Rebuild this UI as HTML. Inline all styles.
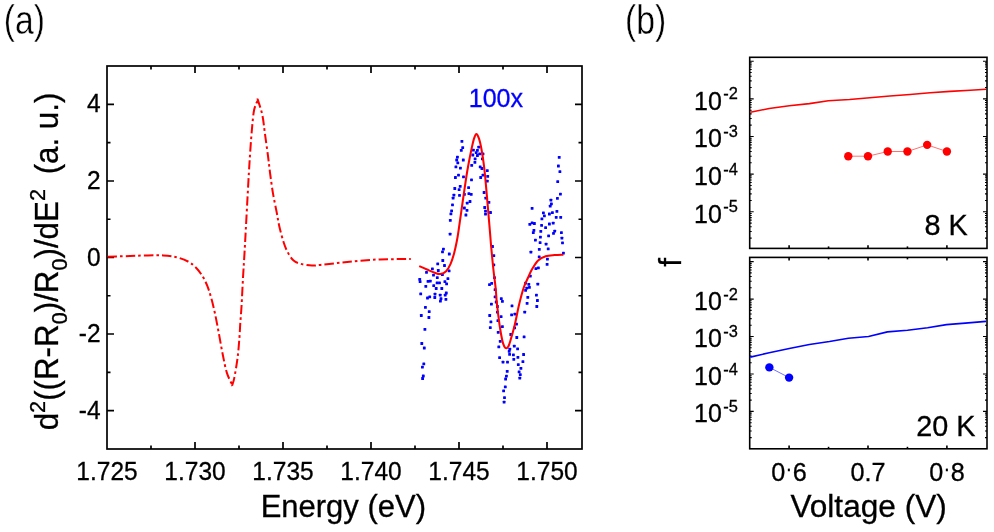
<!DOCTYPE html>
<html><head><meta charset="utf-8"><title>Figure</title>
<style>html,body{margin:0;padding:0;background:#fff;}body{width:994px;height:532px;overflow:hidden;position:relative;font-family:"Liberation Sans", sans-serif;}svg{position:absolute;left:0;top:0;will-change:transform;}</style>
</head><body>
<svg width="994" height="532" viewBox="0 0 994 532" style="display:block">
<rect width="994" height="532" fill="#fff"/>
<g stroke="#000" stroke-width="1.7" fill="none" stroke-linecap="butt">
<rect x="107.00" y="66.00" width="475.00" height="383.00"/>
<path d="M151.00 449.00V445.50 M151.00 66.00V69.50"/>
<path d="M195.00 449.00V442.00 M195.00 66.00V73.00"/>
<path d="M239.00 449.00V445.50 M239.00 66.00V69.50"/>
<path d="M283.00 449.00V442.00 M283.00 66.00V73.00"/>
<path d="M327.00 449.00V445.50 M327.00 66.00V69.50"/>
<path d="M371.00 449.00V442.00 M371.00 66.00V73.00"/>
<path d="M415.00 449.00V445.50 M415.00 66.00V69.50"/>
<path d="M459.00 449.00V442.00 M459.00 66.00V73.00"/>
<path d="M503.00 449.00V445.50 M503.00 66.00V69.50"/>
<path d="M547.00 449.00V442.00 M547.00 66.00V73.00"/>
<path d="M107.00 410.54H114.00 M582.00 410.54H575.00"/>
<path d="M107.00 372.28H110.50 M582.00 372.28H578.50"/>
<path d="M107.00 334.02H114.00 M582.00 334.02H575.00"/>
<path d="M107.00 295.76H110.50 M582.00 295.76H578.50"/>
<path d="M107.00 257.50H114.00 M582.00 257.50H575.00"/>
<path d="M107.00 219.24H110.50 M582.00 219.24H578.50"/>
<path d="M107.00 180.98H114.00 M582.00 180.98H575.00"/>
<path d="M107.00 142.72H110.50 M582.00 142.72H578.50"/>
<path d="M107.00 104.46H114.00 M582.00 104.46H575.00"/>
</g>
<text transform="translate(107.00,479.90) scale(1,1.040)" font-family='"Liberation Sans", sans-serif' font-size="24.50" text-anchor="middle" fill="#000" stroke="#000" stroke-width="0.3">1.725</text>
<text transform="translate(195.00,479.90) scale(1,1.040)" font-family='"Liberation Sans", sans-serif' font-size="24.50" text-anchor="middle" fill="#000" stroke="#000" stroke-width="0.3">1.730</text>
<text transform="translate(283.00,479.90) scale(1,1.040)" font-family='"Liberation Sans", sans-serif' font-size="24.50" text-anchor="middle" fill="#000" stroke="#000" stroke-width="0.3">1.735</text>
<text transform="translate(371.00,479.90) scale(1,1.040)" font-family='"Liberation Sans", sans-serif' font-size="24.50" text-anchor="middle" fill="#000" stroke="#000" stroke-width="0.3">1.740</text>
<text transform="translate(459.00,479.90) scale(1,1.040)" font-family='"Liberation Sans", sans-serif' font-size="24.50" text-anchor="middle" fill="#000" stroke="#000" stroke-width="0.3">1.745</text>
<text transform="translate(547.00,479.90) scale(1,1.040)" font-family='"Liberation Sans", sans-serif' font-size="24.50" text-anchor="middle" fill="#000" stroke="#000" stroke-width="0.3">1.750</text>
<text transform="translate(100.60,418.54) scale(1,1.040)" font-family='"Liberation Sans", sans-serif' font-size="24.50" text-anchor="end" fill="#000" stroke="#000" stroke-width="0.3">-4</text>
<text transform="translate(100.60,342.02) scale(1,1.040)" font-family='"Liberation Sans", sans-serif' font-size="24.50" text-anchor="end" fill="#000" stroke="#000" stroke-width="0.3">-2</text>
<text transform="translate(100.60,265.50) scale(1,1.040)" font-family='"Liberation Sans", sans-serif' font-size="24.50" text-anchor="end" fill="#000" stroke="#000" stroke-width="0.3">0</text>
<text transform="translate(100.60,188.98) scale(1,1.040)" font-family='"Liberation Sans", sans-serif' font-size="24.50" text-anchor="end" fill="#000" stroke="#000" stroke-width="0.3">2</text>
<text transform="translate(100.60,112.46) scale(1,1.040)" font-family='"Liberation Sans", sans-serif' font-size="24.50" text-anchor="end" fill="#000" stroke="#000" stroke-width="0.3">4</text>
<text transform="translate(343.30,517.20) scale(1,1.015)" font-family='"Liberation Sans", sans-serif' font-size="31.00" text-anchor="middle" fill="#000" stroke="#000" stroke-width="0.3">Energy (eV)</text>
<g transform="translate(57.8,430.3) rotate(-90) scale(1,1.040)" font-family='"Liberation Sans", sans-serif' fill="#000" stroke="#000" stroke-width="0.3">
<text x="0" y="0" font-size="31.3">d<tspan dy="-12.0" font-size="21.7">2</tspan><tspan dy="12.0">((R-R</tspan><tspan dy="9.0" font-size="21.7">0</tspan><tspan dy="-9.0">)/R</tspan><tspan dy="9.0" font-size="21.7">0</tspan><tspan dy="-9.0">)/dE</tspan><tspan dy="-12.0" font-size="21.7">2</tspan><tspan dy="12.0" dx="6"> (a. u.)</tspan></text>
</g>
<path d="M107.60 256.80 C111.33 256.67 123.30 256.23 130.00 256.00 C136.70 255.77 142.28 255.50 147.80 255.40 C153.32 255.30 158.32 255.10 163.10 255.40 C167.88 255.70 172.35 256.18 176.50 257.20 C180.65 258.22 184.82 259.82 188.00 261.50 C191.18 263.18 193.22 264.90 195.60 267.30 C197.98 269.70 200.38 272.88 202.30 275.90 C204.22 278.92 205.67 281.90 207.10 285.40 C208.53 288.90 209.63 292.43 210.90 296.90 C212.17 301.37 213.43 306.43 214.70 312.20 C215.97 317.97 217.18 324.57 218.50 331.50 C219.82 338.43 221.22 346.95 222.60 353.80 C223.98 360.65 225.18 367.40 226.80 372.60 C228.42 377.80 231.38 382.93 232.30 385.00 C233.22 387.07 231.97 386.18 232.30 385.00 C232.63 383.82 233.42 382.47 234.30 377.90 C235.18 373.33 236.75 364.25 237.60 357.60 C238.45 350.95 238.95 343.77 239.40 338.00 C239.85 332.23 239.95 328.25 240.30 323.00 C240.65 317.75 241.05 314.03 241.50 306.50 C241.95 298.97 242.52 286.40 243.00 277.80 C243.48 269.20 243.93 262.95 244.40 254.90 C244.87 246.85 245.30 238.72 245.80 229.50 C246.30 220.28 246.88 209.08 247.40 199.60 C247.92 190.12 248.43 180.53 248.90 172.60 C249.37 164.67 249.70 159.17 250.20 152.00 C250.70 144.83 251.25 136.60 251.90 129.60 C252.55 122.60 253.10 114.93 254.10 110.00 C255.10 105.07 257.27 101.67 257.90 100.00 C258.53 98.33 257.15 97.45 257.90 100.00 C258.65 102.55 261.22 109.62 262.40 115.30 C263.58 120.98 264.07 127.32 265.00 134.10 C265.93 140.88 267.15 149.47 268.00 156.00 C268.85 162.53 269.28 167.15 270.10 173.30 C270.92 179.45 271.80 186.38 272.90 192.90 C274.00 199.42 275.62 206.77 276.70 212.40 C277.78 218.03 278.23 221.68 279.40 226.70 C280.57 231.72 282.32 238.25 283.70 242.50 C285.08 246.75 286.10 249.25 287.70 252.20 C289.30 255.15 291.15 258.27 293.30 260.20 C295.45 262.13 297.50 262.90 300.60 263.80 C303.70 264.70 308.42 265.45 311.90 265.60 C315.38 265.75 316.68 265.18 321.50 264.70 C326.32 264.22 334.37 263.37 340.80 262.70 C347.23 262.03 353.65 261.25 360.10 260.70 C366.55 260.15 373.32 259.67 379.50 259.40 C385.68 259.13 391.98 259.17 397.20 259.10 C402.42 259.03 408.53 259.02 410.80 259.00" fill="none" stroke="#ff0000" stroke-width="2.0" stroke-dasharray="9.4 3 2.6 3.1" stroke-linejoin="round"/>
<g fill="#0000ff">
<rect x="460.5" y="140.0" width="2.8" height="2.8" rx="0.5"/>
<rect x="461.3" y="146.2" width="2.8" height="2.8" rx="0.5"/>
<rect x="459.9" y="149.0" width="2.8" height="2.8" rx="0.5"/>
<rect x="456.0" y="155.8" width="2.8" height="2.8" rx="0.5"/>
<rect x="455.3" y="158.6" width="2.8" height="2.8" rx="0.5"/>
<rect x="461.9" y="158.6" width="2.8" height="2.8" rx="0.5"/>
<rect x="456.4" y="161.4" width="2.8" height="2.8" rx="0.5"/>
<rect x="454.5" y="165.4" width="2.8" height="2.8" rx="0.5"/>
<rect x="459.0" y="166.7" width="2.8" height="2.8" rx="0.5"/>
<rect x="457.1" y="173.8" width="2.8" height="2.8" rx="0.5"/>
<rect x="454.0" y="176.1" width="2.8" height="2.8" rx="0.5"/>
<rect x="462.1" y="175.5" width="2.8" height="2.8" rx="0.5"/>
<rect x="477.3" y="145.7" width="2.8" height="2.8" rx="0.5"/>
<rect x="472.0" y="148.8" width="2.8" height="2.8" rx="0.5"/>
<rect x="476.0" y="149.0" width="2.8" height="2.8" rx="0.5"/>
<rect x="474.8" y="151.3" width="2.8" height="2.8" rx="0.5"/>
<rect x="478.2" y="152.4" width="2.8" height="2.8" rx="0.5"/>
<rect x="481.6" y="152.4" width="2.8" height="2.8" rx="0.5"/>
<rect x="471.4" y="153.6" width="2.8" height="2.8" rx="0.5"/>
<rect x="476.0" y="154.1" width="2.8" height="2.8" rx="0.5"/>
<rect x="473.7" y="157.5" width="2.8" height="2.8" rx="0.5"/>
<rect x="481.0" y="157.5" width="2.8" height="2.8" rx="0.5"/>
<rect x="473.5" y="160.9" width="2.8" height="2.8" rx="0.5"/>
<rect x="470.3" y="164.0" width="2.8" height="2.8" rx="0.5"/>
<rect x="478.8" y="165.4" width="2.8" height="2.8" rx="0.5"/>
<rect x="480.5" y="167.1" width="2.8" height="2.8" rx="0.5"/>
<rect x="485.9" y="169.3" width="2.8" height="2.8" rx="0.5"/>
<rect x="486.3" y="175.0" width="2.8" height="2.8" rx="0.5"/>
<rect x="479.3" y="176.1" width="2.8" height="2.8" rx="0.5"/>
<rect x="481.6" y="173.8" width="2.8" height="2.8" rx="0.5"/>
<rect x="470.1" y="178.4" width="2.8" height="2.8" rx="0.5"/>
<rect x="485.9" y="179.8" width="2.8" height="2.8" rx="0.5"/>
<rect x="453.4" y="187.1" width="2.8" height="2.8" rx="0.5"/>
<rect x="458.8" y="184.9" width="2.8" height="2.8" rx="0.5"/>
<rect x="457.7" y="188.3" width="2.8" height="2.8" rx="0.5"/>
<rect x="467.2" y="186.2" width="2.8" height="2.8" rx="0.5"/>
<rect x="452.5" y="193.7" width="2.8" height="2.8" rx="0.5"/>
<rect x="451.7" y="196.7" width="2.8" height="2.8" rx="0.5"/>
<rect x="458.1" y="193.9" width="2.8" height="2.8" rx="0.5"/>
<rect x="463.0" y="193.0" width="2.8" height="2.8" rx="0.5"/>
<rect x="467.5" y="192.2" width="2.8" height="2.8" rx="0.5"/>
<rect x="469.8" y="193.0" width="2.8" height="2.8" rx="0.5"/>
<rect x="482.7" y="191.1" width="2.8" height="2.8" rx="0.5"/>
<rect x="484.4" y="196.7" width="2.8" height="2.8" rx="0.5"/>
<rect x="487.5" y="201.0" width="2.8" height="2.8" rx="0.5"/>
<rect x="451.1" y="203.5" width="2.8" height="2.8" rx="0.5"/>
<rect x="468.6" y="200.1" width="2.8" height="2.8" rx="0.5"/>
<rect x="465.8" y="201.8" width="2.8" height="2.8" rx="0.5"/>
<rect x="463.0" y="206.6" width="2.8" height="2.8" rx="0.5"/>
<rect x="465.6" y="208.9" width="2.8" height="2.8" rx="0.5"/>
<rect x="483.3" y="206.1" width="2.8" height="2.8" rx="0.5"/>
<rect x="484.1" y="209.7" width="2.8" height="2.8" rx="0.5"/>
<rect x="484.1" y="212.8" width="2.8" height="2.8" rx="0.5"/>
<rect x="450.2" y="209.5" width="2.8" height="2.8" rx="0.5"/>
<rect x="449.5" y="212.5" width="2.8" height="2.8" rx="0.5"/>
<rect x="464.5" y="213.6" width="2.8" height="2.8" rx="0.5"/>
<rect x="448.9" y="218.9" width="2.8" height="2.8" rx="0.5"/>
<rect x="448.7" y="232.8" width="2.8" height="2.8" rx="0.5"/>
<rect x="442.0" y="247.8" width="2.8" height="2.8" rx="0.5"/>
<rect x="441.1" y="250.5" width="2.8" height="2.8" rx="0.5"/>
<rect x="447.9" y="252.6" width="2.8" height="2.8" rx="0.5"/>
<rect x="441.4" y="259.1" width="2.8" height="2.8" rx="0.5"/>
<rect x="436.3" y="262.4" width="2.8" height="2.8" rx="0.5"/>
<rect x="443.1" y="264.1" width="2.8" height="2.8" rx="0.5"/>
<rect x="431.0" y="267.5" width="2.8" height="2.8" rx="0.5"/>
<rect x="436.9" y="269.1" width="2.8" height="2.8" rx="0.5"/>
<rect x="447.7" y="269.4" width="2.8" height="2.8" rx="0.5"/>
<rect x="425.1" y="270.9" width="2.8" height="2.8" rx="0.5"/>
<rect x="432.1" y="273.8" width="2.8" height="2.8" rx="0.5"/>
<rect x="441.0" y="273.1" width="2.8" height="2.8" rx="0.5"/>
<rect x="435.9" y="276.2" width="2.8" height="2.8" rx="0.5"/>
<rect x="446.5" y="277.2" width="2.8" height="2.8" rx="0.5"/>
<rect x="418.3" y="277.9" width="2.8" height="2.8" rx="0.5"/>
<rect x="418.7" y="280.3" width="2.8" height="2.8" rx="0.5"/>
<rect x="426.6" y="280.0" width="2.8" height="2.8" rx="0.5"/>
<rect x="428.9" y="279.7" width="2.8" height="2.8" rx="0.5"/>
<rect x="435.7" y="281.4" width="2.8" height="2.8" rx="0.5"/>
<rect x="438.1" y="281.4" width="2.8" height="2.8" rx="0.5"/>
<rect x="443.5" y="280.3" width="2.8" height="2.8" rx="0.5"/>
<rect x="445.2" y="282.5" width="2.8" height="2.8" rx="0.5"/>
<rect x="432.3" y="284.2" width="2.8" height="2.8" rx="0.5"/>
<rect x="424.4" y="285.0" width="2.8" height="2.8" rx="0.5"/>
<rect x="434.8" y="287.1" width="2.8" height="2.8" rx="0.5"/>
<rect x="440.4" y="287.1" width="2.8" height="2.8" rx="0.5"/>
<rect x="419.3" y="292.4" width="2.8" height="2.8" rx="0.5"/>
<rect x="433.6" y="292.7" width="2.8" height="2.8" rx="0.5"/>
<rect x="444.9" y="291.6" width="2.8" height="2.8" rx="0.5"/>
<rect x="438.8" y="293.8" width="2.8" height="2.8" rx="0.5"/>
<rect x="443.8" y="293.8" width="2.8" height="2.8" rx="0.5"/>
<rect x="428.3" y="295.5" width="2.8" height="2.8" rx="0.5"/>
<rect x="426.1" y="296.6" width="2.8" height="2.8" rx="0.5"/>
<rect x="433.4" y="296.1" width="2.8" height="2.8" rx="0.5"/>
<rect x="439.6" y="297.2" width="2.8" height="2.8" rx="0.5"/>
<rect x="444.5" y="298.0" width="2.8" height="2.8" rx="0.5"/>
<rect x="439.0" y="299.8" width="2.8" height="2.8" rx="0.5"/>
<rect x="424.0" y="306.0" width="2.8" height="2.8" rx="0.5"/>
<rect x="427.8" y="310.2" width="2.8" height="2.8" rx="0.5"/>
<rect x="419.9" y="314.1" width="2.8" height="2.8" rx="0.5"/>
<rect x="427.5" y="316.1" width="2.8" height="2.8" rx="0.5"/>
<rect x="423.5" y="327.9" width="2.8" height="2.8" rx="0.5"/>
<rect x="420.4" y="342.1" width="2.8" height="2.8" rx="0.5"/>
<rect x="422.9" y="346.6" width="2.8" height="2.8" rx="0.5"/>
<rect x="422.4" y="362.4" width="2.8" height="2.8" rx="0.5"/>
<rect x="421.0" y="365.8" width="2.8" height="2.8" rx="0.5"/>
<rect x="421.9" y="374.6" width="2.8" height="2.8" rx="0.5"/>
<rect x="421.2" y="377.1" width="2.8" height="2.8" rx="0.5"/>
<rect x="488.1" y="283.3" width="2.8" height="2.8" rx="0.5"/>
<rect x="490.3" y="282.0" width="2.8" height="2.8" rx="0.5"/>
<rect x="493.7" y="288.2" width="2.8" height="2.8" rx="0.5"/>
<rect x="493.7" y="295.5" width="2.8" height="2.8" rx="0.5"/>
<rect x="494.8" y="300.6" width="2.8" height="2.8" rx="0.5"/>
<rect x="499.9" y="297.2" width="2.8" height="2.8" rx="0.5"/>
<rect x="501.0" y="300.0" width="2.8" height="2.8" rx="0.5"/>
<rect x="490.0" y="302.8" width="2.8" height="2.8" rx="0.5"/>
<rect x="496.0" y="305.1" width="2.8" height="2.8" rx="0.5"/>
<rect x="496.0" y="310.7" width="2.8" height="2.8" rx="0.5"/>
<rect x="488.3" y="314.1" width="2.8" height="2.8" rx="0.5"/>
<rect x="499.7" y="315.2" width="2.8" height="2.8" rx="0.5"/>
<rect x="489.5" y="320.5" width="2.8" height="2.8" rx="0.5"/>
<rect x="496.5" y="319.2" width="2.8" height="2.8" rx="0.5"/>
<rect x="488.9" y="326.2" width="2.8" height="2.8" rx="0.5"/>
<rect x="501.0" y="325.2" width="2.8" height="2.8" rx="0.5"/>
<rect x="496.8" y="331.0" width="2.8" height="2.8" rx="0.5"/>
<rect x="498.8" y="339.9" width="2.8" height="2.8" rx="0.5"/>
<rect x="497.4" y="345.5" width="2.8" height="2.8" rx="0.5"/>
<rect x="498.2" y="356.2" width="2.8" height="2.8" rx="0.5"/>
<rect x="501.6" y="360.7" width="2.8" height="2.8" rx="0.5"/>
<rect x="506.1" y="360.7" width="2.8" height="2.8" rx="0.5"/>
<rect x="505.8" y="370.0" width="2.8" height="2.8" rx="0.5"/>
<rect x="505.0" y="374.8" width="2.8" height="2.8" rx="0.5"/>
<rect x="504.2" y="377.6" width="2.8" height="2.8" rx="0.5"/>
<rect x="503.9" y="385.5" width="2.8" height="2.8" rx="0.5"/>
<rect x="507.8" y="350.0" width="2.8" height="2.8" rx="0.5"/>
<rect x="509.4" y="333.1" width="2.8" height="2.8" rx="0.5"/>
<rect x="515.4" y="336.1" width="2.8" height="2.8" rx="0.5"/>
<rect x="522.7" y="335.4" width="2.8" height="2.8" rx="0.5"/>
<rect x="512.9" y="344.8" width="2.8" height="2.8" rx="0.5"/>
<rect x="516.2" y="347.4" width="2.8" height="2.8" rx="0.5"/>
<rect x="508.4" y="347.8" width="2.8" height="2.8" rx="0.5"/>
<rect x="508.2" y="353.0" width="2.8" height="2.8" rx="0.5"/>
<rect x="512.0" y="353.4" width="2.8" height="2.8" rx="0.5"/>
<rect x="522.2" y="353.1" width="2.8" height="2.8" rx="0.5"/>
<rect x="516.5" y="356.0" width="2.8" height="2.8" rx="0.5"/>
<rect x="512.4" y="357.9" width="2.8" height="2.8" rx="0.5"/>
<rect x="521.5" y="360.2" width="2.8" height="2.8" rx="0.5"/>
<rect x="516.9" y="363.2" width="2.8" height="2.8" rx="0.5"/>
<rect x="519.5" y="366.9" width="2.8" height="2.8" rx="0.5"/>
<rect x="517.7" y="370.4" width="2.8" height="2.8" rx="0.5"/>
<rect x="518.9" y="373.3" width="2.8" height="2.8" rx="0.5"/>
<rect x="518.4" y="376.7" width="2.8" height="2.8" rx="0.5"/>
<rect x="502.2" y="389.5" width="2.8" height="2.8" rx="0.5"/>
<rect x="503.1" y="396.3" width="2.8" height="2.8" rx="0.5"/>
<rect x="502.7" y="400.8" width="2.8" height="2.8" rx="0.5"/>
<rect x="557.8" y="155.9" width="2.8" height="2.8" rx="0.5"/>
<rect x="557.0" y="164.6" width="2.8" height="2.8" rx="0.5"/>
<rect x="558.5" y="170.2" width="2.8" height="2.8" rx="0.5"/>
<rect x="556.3" y="180.3" width="2.8" height="2.8" rx="0.5"/>
<rect x="559.0" y="192.7" width="2.8" height="2.8" rx="0.5"/>
<rect x="556.0" y="196.9" width="2.8" height="2.8" rx="0.5"/>
<rect x="549.5" y="198.8" width="2.8" height="2.8" rx="0.5"/>
<rect x="550.0" y="202.5" width="2.8" height="2.8" rx="0.5"/>
<rect x="548.8" y="204.8" width="2.8" height="2.8" rx="0.5"/>
<rect x="530.7" y="207.0" width="2.8" height="2.8" rx="0.5"/>
<rect x="555.5" y="210.0" width="2.8" height="2.8" rx="0.5"/>
<rect x="542.0" y="211.5" width="2.8" height="2.8" rx="0.5"/>
<rect x="551.0" y="211.2" width="2.8" height="2.8" rx="0.5"/>
<rect x="548.0" y="212.6" width="2.8" height="2.8" rx="0.5"/>
<rect x="543.0" y="214.5" width="2.8" height="2.8" rx="0.5"/>
<rect x="554.8" y="216.0" width="2.8" height="2.8" rx="0.5"/>
<rect x="559.3" y="216.0" width="2.8" height="2.8" rx="0.5"/>
<rect x="540.5" y="217.5" width="2.8" height="2.8" rx="0.5"/>
<rect x="530.7" y="221.4" width="2.8" height="2.8" rx="0.5"/>
<rect x="533.0" y="222.1" width="2.8" height="2.8" rx="0.5"/>
<rect x="548.0" y="222.6" width="2.8" height="2.8" rx="0.5"/>
<rect x="551.8" y="221.8" width="2.8" height="2.8" rx="0.5"/>
<rect x="540.2" y="223.9" width="2.8" height="2.8" rx="0.5"/>
<rect x="544.2" y="226.2" width="2.8" height="2.8" rx="0.5"/>
<rect x="532.5" y="228.9" width="2.8" height="2.8" rx="0.5"/>
<rect x="531.9" y="231.2" width="2.8" height="2.8" rx="0.5"/>
<rect x="539.4" y="230.0" width="2.8" height="2.8" rx="0.5"/>
<rect x="553.3" y="229.7" width="2.8" height="2.8" rx="0.5"/>
<rect x="560.0" y="231.2" width="2.8" height="2.8" rx="0.5"/>
<rect x="552.1" y="231.9" width="2.8" height="2.8" rx="0.5"/>
<rect x="547.2" y="234.5" width="2.8" height="2.8" rx="0.5"/>
<rect x="539.0" y="235.7" width="2.8" height="2.8" rx="0.5"/>
<rect x="560.5" y="236.7" width="2.8" height="2.8" rx="0.5"/>
<rect x="534.0" y="238.7" width="2.8" height="2.8" rx="0.5"/>
<rect x="538.7" y="241.2" width="2.8" height="2.8" rx="0.5"/>
<rect x="544.7" y="242.7" width="2.8" height="2.8" rx="0.5"/>
<rect x="561.1" y="241.4" width="2.8" height="2.8" rx="0.5"/>
<rect x="537.9" y="248.0" width="2.8" height="2.8" rx="0.5"/>
<rect x="546.8" y="247.4" width="2.8" height="2.8" rx="0.5"/>
<rect x="529.5" y="250.7" width="2.8" height="2.8" rx="0.5"/>
<rect x="562.0" y="251.8" width="2.8" height="2.8" rx="0.5"/>
<rect x="537.8" y="255.5" width="2.8" height="2.8" rx="0.5"/>
<rect x="546.0" y="257.8" width="2.8" height="2.8" rx="0.5"/>
<rect x="545.7" y="263.0" width="2.8" height="2.8" rx="0.5"/>
<rect x="537.0" y="266.5" width="2.8" height="2.8" rx="0.5"/>
<rect x="534.5" y="267.2" width="2.8" height="2.8" rx="0.5"/>
<rect x="528.9" y="274.8" width="2.8" height="2.8" rx="0.5"/>
<rect x="536.4" y="282.7" width="2.8" height="2.8" rx="0.5"/>
<rect x="527.4" y="283.0" width="2.8" height="2.8" rx="0.5"/>
<rect x="524.2" y="281.8" width="2.8" height="2.8" rx="0.5"/>
<rect x="528.0" y="286.0" width="2.8" height="2.8" rx="0.5"/>
<rect x="525.4" y="286.8" width="2.8" height="2.8" rx="0.5"/>
<rect x="492.4" y="254.2" width="2.8" height="2.8" rx="0.5"/>
<rect x="492.4" y="263.5" width="2.8" height="2.8" rx="0.5"/>
<rect x="493.1" y="276.3" width="2.8" height="2.8" rx="0.5"/>
<rect x="524.2" y="288.9" width="2.8" height="2.8" rx="0.5"/>
<rect x="535.0" y="293.7" width="2.8" height="2.8" rx="0.5"/>
<rect x="526.4" y="296.0" width="2.8" height="2.8" rx="0.5"/>
<rect x="536.0" y="299.1" width="2.8" height="2.8" rx="0.5"/>
<rect x="525.7" y="302.0" width="2.8" height="2.8" rx="0.5"/>
<rect x="535.4" y="305.1" width="2.8" height="2.8" rx="0.5"/>
<rect x="523.3" y="310.7" width="2.8" height="2.8" rx="0.5"/>
<rect x="510.6" y="304.4" width="2.8" height="2.8" rx="0.5"/>
<rect x="513.5" y="312.7" width="2.8" height="2.8" rx="0.5"/>
<rect x="510.2" y="313.4" width="2.8" height="2.8" rx="0.5"/>
<rect x="515.1" y="322.7" width="2.8" height="2.8" rx="0.5"/>
<rect x="513.2" y="326.5" width="2.8" height="2.8" rx="0.5"/>
<rect x="528.4" y="223.0" width="2.8" height="2.8" rx="0.5"/>
<rect x="491.1" y="245.1" width="2.8" height="2.8" rx="0.5"/>
<rect x="489.1" y="211.1" width="2.8" height="2.8" rx="0.5"/>
</g>
<path d="M419.20 266.10 C420.48 266.67 424.30 268.38 426.90 269.50 C429.50 270.62 432.55 272.05 434.80 272.80 C437.05 273.55 438.52 274.27 440.40 274.00 C442.28 273.73 444.40 272.90 446.10 271.20 C447.80 269.50 449.28 266.72 450.60 263.80 C451.92 260.88 452.97 257.45 454.00 253.70 C455.03 249.95 456.00 245.42 456.80 241.30 C457.60 237.18 457.85 235.38 458.80 229.00 C459.75 222.62 461.25 211.67 462.50 203.00 C463.75 194.33 465.23 183.83 466.30 177.00 C467.37 170.17 468.00 166.80 468.90 162.00 C469.80 157.20 470.85 152.10 471.70 148.20 C472.55 144.30 473.22 140.95 474.00 138.60 C474.78 136.25 475.57 134.10 476.40 134.10 C477.23 134.10 478.18 136.25 479.00 138.60 C479.82 140.95 480.53 144.17 481.30 148.20 C482.07 152.23 482.95 158.00 483.60 162.80 C484.25 167.60 484.55 170.30 485.20 177.00 C485.85 183.70 486.73 194.17 487.50 203.00 C488.27 211.83 489.18 222.68 489.80 230.00 C490.42 237.32 490.60 240.32 491.20 246.90 C491.80 253.48 492.65 262.55 493.40 269.50 C494.15 276.45 495.13 283.10 495.70 288.60 C496.27 294.10 496.15 296.42 496.80 302.50 C497.45 308.58 498.68 318.77 499.60 325.10 C500.52 331.43 501.52 336.93 502.30 340.50 C503.08 344.07 503.63 345.20 504.30 346.50 C504.97 347.80 505.63 348.30 506.30 348.30 C506.97 348.30 507.68 347.55 508.30 346.50 C508.92 345.45 508.95 345.48 510.00 342.00 C511.05 338.52 513.08 331.83 514.60 325.60 C516.12 319.37 517.60 310.87 519.10 304.60 C520.60 298.33 522.10 292.52 523.60 288.00 C525.10 283.48 526.70 280.62 528.10 277.50 C529.50 274.38 530.33 272.15 532.00 269.30 C533.67 266.45 535.83 262.57 538.10 260.40 C540.37 258.23 542.83 257.18 545.60 256.30 C548.37 255.42 551.73 255.37 554.70 255.10 C557.67 254.83 561.95 254.77 563.40 254.70" fill="none" stroke="#ff0000" stroke-width="2.05" stroke-linejoin="round"/>
<text transform="translate(495.90,107.30) scale(1,1.040)" font-family='"Liberation Sans", sans-serif' font-size="25.05" text-anchor="middle" fill="#0000ff" stroke="#0000ff" stroke-width="0.3">100x</text>
<g transform="translate(3.80,33.50) scale(0.83,1)"><text x="0" y="0" font-family='"Liberation Sans", sans-serif' font-size="40.6" fill="#000" stroke="#fff" stroke-width="0.4">(a)</text></g>
<g transform="translate(625.00,33.50) scale(0.83,1)"><text x="0" y="0" font-family='"Liberation Sans", sans-serif' font-size="40.6" fill="#000" stroke="#fff" stroke-width="0.4">(b)</text></g>
<g stroke="#000" stroke-width="1.6" fill="none">
<rect x="749.70" y="57.30" width="237.30" height="191.10"/>
<path d="M789.10 248.40V245.20"/>
<path d="M828.55 248.40V246.40"/>
<path d="M868.00 248.40V245.20"/>
<path d="M907.45 248.40V246.40"/>
<path d="M946.90 248.40V245.20"/>
</g>
<g stroke="#000" stroke-width="1.1" fill="none">
<path d="M749.70 61.20H753.70 M987.00 61.20H983.00"/>
<path d="M749.70 98.85H753.70 M987.00 98.85H983.00"/>
<path d="M749.70 87.52H751.70 M987.00 87.52H985.00"/>
<path d="M749.70 80.89H751.70 M987.00 80.89H985.00"/>
<path d="M749.70 76.18H751.70 M987.00 76.18H985.00"/>
<path d="M749.70 72.53H751.70 M987.00 72.53H985.00"/>
<path d="M749.70 69.55H751.70 M987.00 69.55H985.00"/>
<path d="M749.70 67.03H751.70 M987.00 67.03H985.00"/>
<path d="M749.70 64.85H751.70 M987.00 64.85H985.00"/>
<path d="M749.70 62.92H751.70 M987.00 62.92H985.00"/>
<path d="M749.70 136.50H753.70 M987.00 136.50H983.00"/>
<path d="M749.70 125.17H751.70 M987.00 125.17H985.00"/>
<path d="M749.70 118.54H751.70 M987.00 118.54H985.00"/>
<path d="M749.70 113.83H751.70 M987.00 113.83H985.00"/>
<path d="M749.70 110.18H751.70 M987.00 110.18H985.00"/>
<path d="M749.70 107.20H751.70 M987.00 107.20H985.00"/>
<path d="M749.70 104.68H751.70 M987.00 104.68H985.00"/>
<path d="M749.70 102.50H751.70 M987.00 102.50H985.00"/>
<path d="M749.70 100.57H751.70 M987.00 100.57H985.00"/>
<path d="M749.70 174.15H753.70 M987.00 174.15H983.00"/>
<path d="M749.70 162.82H751.70 M987.00 162.82H985.00"/>
<path d="M749.70 156.19H751.70 M987.00 156.19H985.00"/>
<path d="M749.70 151.48H751.70 M987.00 151.48H985.00"/>
<path d="M749.70 147.83H751.70 M987.00 147.83H985.00"/>
<path d="M749.70 144.85H751.70 M987.00 144.85H985.00"/>
<path d="M749.70 142.33H751.70 M987.00 142.33H985.00"/>
<path d="M749.70 140.15H751.70 M987.00 140.15H985.00"/>
<path d="M749.70 138.22H751.70 M987.00 138.22H985.00"/>
<path d="M749.70 211.80H753.70 M987.00 211.80H983.00"/>
<path d="M749.70 200.47H751.70 M987.00 200.47H985.00"/>
<path d="M749.70 193.84H751.70 M987.00 193.84H985.00"/>
<path d="M749.70 189.13H751.70 M987.00 189.13H985.00"/>
<path d="M749.70 185.48H751.70 M987.00 185.48H985.00"/>
<path d="M749.70 182.50H751.70 M987.00 182.50H985.00"/>
<path d="M749.70 179.98H751.70 M987.00 179.98H985.00"/>
<path d="M749.70 177.80H751.70 M987.00 177.80H985.00"/>
<path d="M749.70 175.87H751.70 M987.00 175.87H985.00"/>
<path d="M749.70 238.12H751.70 M987.00 238.12H985.00"/>
<path d="M749.70 231.49H751.70 M987.00 231.49H985.00"/>
<path d="M749.70 226.78H751.70 M987.00 226.78H985.00"/>
<path d="M749.70 223.13H751.70 M987.00 223.13H985.00"/>
<path d="M749.70 220.15H751.70 M987.00 220.15H985.00"/>
<path d="M749.70 217.63H751.70 M987.00 217.63H985.00"/>
<path d="M749.70 215.45H751.70 M987.00 215.45H985.00"/>
<path d="M749.70 213.52H751.70 M987.00 213.52H985.00"/>
</g>
<text transform="translate(721.90,109.65) scale(1,1.040)" font-family='"Liberation Sans", sans-serif' font-size="25.00" text-anchor="end" fill="#000" stroke="#000" stroke-width="0.3">10</text>
<text transform="translate(723.20,99.45) scale(1,1.040)" font-family='"Liberation Sans", sans-serif' font-size="16.40" text-anchor="start" fill="#000" stroke="#000" stroke-width="0.3">-2</text>
<text transform="translate(721.90,147.30) scale(1,1.040)" font-family='"Liberation Sans", sans-serif' font-size="25.00" text-anchor="end" fill="#000" stroke="#000" stroke-width="0.3">10</text>
<text transform="translate(723.20,137.10) scale(1,1.040)" font-family='"Liberation Sans", sans-serif' font-size="16.40" text-anchor="start" fill="#000" stroke="#000" stroke-width="0.3">-3</text>
<text transform="translate(721.90,184.95) scale(1,1.040)" font-family='"Liberation Sans", sans-serif' font-size="25.00" text-anchor="end" fill="#000" stroke="#000" stroke-width="0.3">10</text>
<text transform="translate(723.20,174.75) scale(1,1.040)" font-family='"Liberation Sans", sans-serif' font-size="16.40" text-anchor="start" fill="#000" stroke="#000" stroke-width="0.3">-4</text>
<text transform="translate(721.90,222.60) scale(1,1.040)" font-family='"Liberation Sans", sans-serif' font-size="25.00" text-anchor="end" fill="#000" stroke="#000" stroke-width="0.3">10</text>
<text transform="translate(723.20,212.40) scale(1,1.040)" font-family='"Liberation Sans", sans-serif' font-size="16.40" text-anchor="start" fill="#000" stroke="#000" stroke-width="0.3">-5</text>
<g stroke="#000" stroke-width="1.6" fill="none">
<rect x="749.70" y="257.40" width="237.30" height="191.40"/>
<path d="M789.10 448.80V445.60"/>
<path d="M789.10 257.40V260.60"/>
<path d="M828.55 448.80V446.80"/>
<path d="M828.55 257.40V259.40"/>
<path d="M868.00 448.80V445.60"/>
<path d="M868.00 257.40V260.60"/>
<path d="M907.45 448.80V446.80"/>
<path d="M907.45 257.40V259.40"/>
<path d="M946.90 448.80V445.60"/>
<path d="M946.90 257.40V260.60"/>
</g>
<g stroke="#000" stroke-width="1.1" fill="none">
<path d="M749.70 261.65H753.70 M987.00 261.65H983.00"/>
<path d="M749.70 299.09H753.70 M987.00 299.09H983.00"/>
<path d="M749.70 287.82H751.70 M987.00 287.82H985.00"/>
<path d="M749.70 281.23H751.70 M987.00 281.23H985.00"/>
<path d="M749.70 276.55H751.70 M987.00 276.55H985.00"/>
<path d="M749.70 272.92H751.70 M987.00 272.92H985.00"/>
<path d="M749.70 269.96H751.70 M987.00 269.96H985.00"/>
<path d="M749.70 267.45H751.70 M987.00 267.45H985.00"/>
<path d="M749.70 265.28H751.70 M987.00 265.28H985.00"/>
<path d="M749.70 263.36H751.70 M987.00 263.36H985.00"/>
<path d="M749.70 336.53H753.70 M987.00 336.53H983.00"/>
<path d="M749.70 325.26H751.70 M987.00 325.26H985.00"/>
<path d="M749.70 318.67H751.70 M987.00 318.67H985.00"/>
<path d="M749.70 313.99H751.70 M987.00 313.99H985.00"/>
<path d="M749.70 310.36H751.70 M987.00 310.36H985.00"/>
<path d="M749.70 307.40H751.70 M987.00 307.40H985.00"/>
<path d="M749.70 304.89H751.70 M987.00 304.89H985.00"/>
<path d="M749.70 302.72H751.70 M987.00 302.72H985.00"/>
<path d="M749.70 300.80H751.70 M987.00 300.80H985.00"/>
<path d="M749.70 373.97H753.70 M987.00 373.97H983.00"/>
<path d="M749.70 362.70H751.70 M987.00 362.70H985.00"/>
<path d="M749.70 356.11H751.70 M987.00 356.11H985.00"/>
<path d="M749.70 351.43H751.70 M987.00 351.43H985.00"/>
<path d="M749.70 347.80H751.70 M987.00 347.80H985.00"/>
<path d="M749.70 344.84H751.70 M987.00 344.84H985.00"/>
<path d="M749.70 342.33H751.70 M987.00 342.33H985.00"/>
<path d="M749.70 340.16H751.70 M987.00 340.16H985.00"/>
<path d="M749.70 338.24H751.70 M987.00 338.24H985.00"/>
<path d="M749.70 411.41H753.70 M987.00 411.41H983.00"/>
<path d="M749.70 400.14H751.70 M987.00 400.14H985.00"/>
<path d="M749.70 393.55H751.70 M987.00 393.55H985.00"/>
<path d="M749.70 388.87H751.70 M987.00 388.87H985.00"/>
<path d="M749.70 385.24H751.70 M987.00 385.24H985.00"/>
<path d="M749.70 382.28H751.70 M987.00 382.28H985.00"/>
<path d="M749.70 379.77H751.70 M987.00 379.77H985.00"/>
<path d="M749.70 377.60H751.70 M987.00 377.60H985.00"/>
<path d="M749.70 375.68H751.70 M987.00 375.68H985.00"/>
<path d="M749.70 437.58H751.70 M987.00 437.58H985.00"/>
<path d="M749.70 430.99H751.70 M987.00 430.99H985.00"/>
<path d="M749.70 426.31H751.70 M987.00 426.31H985.00"/>
<path d="M749.70 422.68H751.70 M987.00 422.68H985.00"/>
<path d="M749.70 419.72H751.70 M987.00 419.72H985.00"/>
<path d="M749.70 417.21H751.70 M987.00 417.21H985.00"/>
<path d="M749.70 415.04H751.70 M987.00 415.04H985.00"/>
<path d="M749.70 413.12H751.70 M987.00 413.12H985.00"/>
</g>
<text transform="translate(721.90,309.89) scale(1,1.040)" font-family='"Liberation Sans", sans-serif' font-size="25.00" text-anchor="end" fill="#000" stroke="#000" stroke-width="0.3">10</text>
<text transform="translate(723.20,299.69) scale(1,1.040)" font-family='"Liberation Sans", sans-serif' font-size="16.40" text-anchor="start" fill="#000" stroke="#000" stroke-width="0.3">-2</text>
<text transform="translate(721.90,347.33) scale(1,1.040)" font-family='"Liberation Sans", sans-serif' font-size="25.00" text-anchor="end" fill="#000" stroke="#000" stroke-width="0.3">10</text>
<text transform="translate(723.20,337.13) scale(1,1.040)" font-family='"Liberation Sans", sans-serif' font-size="16.40" text-anchor="start" fill="#000" stroke="#000" stroke-width="0.3">-3</text>
<text transform="translate(721.90,384.77) scale(1,1.040)" font-family='"Liberation Sans", sans-serif' font-size="25.00" text-anchor="end" fill="#000" stroke="#000" stroke-width="0.3">10</text>
<text transform="translate(723.20,374.57) scale(1,1.040)" font-family='"Liberation Sans", sans-serif' font-size="16.40" text-anchor="start" fill="#000" stroke="#000" stroke-width="0.3">-4</text>
<text transform="translate(721.90,422.21) scale(1,1.040)" font-family='"Liberation Sans", sans-serif' font-size="25.00" text-anchor="end" fill="#000" stroke="#000" stroke-width="0.3">10</text>
<text transform="translate(723.20,412.01) scale(1,1.040)" font-family='"Liberation Sans", sans-serif' font-size="16.40" text-anchor="start" fill="#000" stroke="#000" stroke-width="0.3">-5</text>
<path d="M750.3 112.3 L769.2 108.5 L789.3 105.8 L809.4 103.6 L828.3 100.7 L849.6 99.5 L869.8 97.7 L889.9 96.0 L910.0 94.5 L930.1 92.7 L950.2 91.4 L970.4 90.3 L986.0 89.2" fill="none" stroke="#ff0000" stroke-width="1.6" stroke-linejoin="round"/>
<path d="M848.3 156.2 L868.0 156.2 L887.7 151.5 L907.4 151.5 L927.2 144.9 L946.9 151.5" fill="none" stroke="#ff0000" stroke-width="0.7" opacity="0.8"/>
<circle cx="848.27" cy="156.19" r="4.2" fill="#ff0000"/>
<circle cx="868.00" cy="156.19" r="4.2" fill="#ff0000"/>
<circle cx="887.72" cy="151.48" r="4.2" fill="#ff0000"/>
<circle cx="907.45" cy="151.48" r="4.2" fill="#ff0000"/>
<circle cx="927.17" cy="144.85" r="4.2" fill="#ff0000"/>
<circle cx="946.90" cy="151.48" r="4.2" fill="#ff0000"/>
<path d="M750.3 357.1 L769.2 352.8 L789.3 348.5 L809.4 344.5 L829.5 341.5 L848.4 338.2 L868.5 336.5 L887.4 331.9 L907.5 330.2 L927.6 327.7 L946.5 324.6 L965.3 323.1 L986.0 321.4" fill="none" stroke="#0000ff" stroke-width="1.6" stroke-linejoin="round"/>
<path d="M769.4 367.4 L789.1 377.6" fill="none" stroke="#0000ff" stroke-width="0.7" opacity="0.8"/>
<circle cx="769.37" cy="367.38" r="4.2" fill="#0000ff"/>
<circle cx="789.10" cy="377.60" r="4.2" fill="#0000ff"/>
<text transform="translate(967.60,235.40) scale(1,1.030)" font-family='"Liberation Sans", sans-serif' font-size="28.80" text-anchor="end" fill="#000" stroke="#000" stroke-width="0.3">8 K</text>
<text transform="translate(975.40,435.70) scale(1,1.030)" font-family='"Liberation Sans", sans-serif' font-size="28.80" text-anchor="end" fill="#000" stroke="#000" stroke-width="0.3">20 K</text>
<text transform="translate(789.00,481.0) scale(1,1.040)" font-family='"Liberation Sans", sans-serif' font-size="25.2" text-anchor="middle" fill="#000" stroke="#000" stroke-width="0.3">0<tspan dx="1.0" dy="-9.6" font-size="19">.</tspan><tspan dx="1.0" dy="9.6">6</tspan></text>
<text transform="translate(868.00,481.00) scale(1,1.040)" font-family='"Liberation Sans", sans-serif' font-size="25.20" text-anchor="middle" fill="#000" stroke="#000" stroke-width="0.3">0.7</text>
<text transform="translate(947.00,481.0) scale(1,1.040)" font-family='"Liberation Sans", sans-serif' font-size="25.2" text-anchor="middle" fill="#000" stroke="#000" stroke-width="0.3">0<tspan dx="1.0" dy="-9.6" font-size="19">.</tspan><tspan dx="1.0" dy="9.6">8</tspan></text>
<text transform="translate(868.60,517.20) scale(1,1.015)" font-family='"Liberation Sans", sans-serif' font-size="31.60" text-anchor="middle" fill="#000" stroke="#000" stroke-width="0.3">Voltage (V)</text>
<g transform="translate(681.4,266.8) rotate(-90)"><text x="0" y="0" font-family='"Liberation Sans", sans-serif' font-size="31.5" fill="#000" stroke="#000" stroke-width="0.3">f</text></g>
</svg>
</body></html>
